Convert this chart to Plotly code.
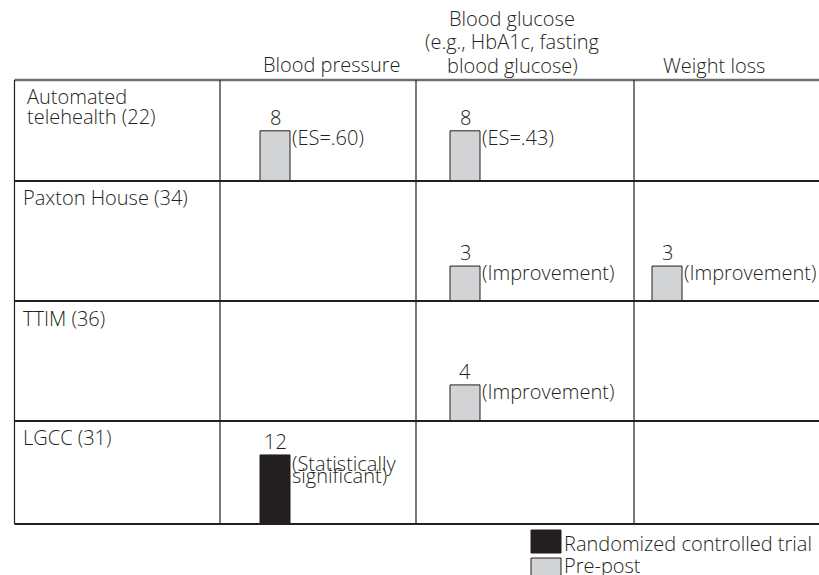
import plotly.graph_objects as go

# ---------------- data ----------------
programs = ["Automated<br>telehealth (22)", "Paxton House (34)", "TTIM (36)", "LGCC (31)"]
outcomes = ["Blood pressure", "Blood glucose<br>(e.g., HbA1c, fasting<br>blood glucose)", "Weight loss"]

study_program = [0, 0, 1, 1, 2, 3]          # row index into programs
study_outcome = [0, 1, 1, 2, 1, 0]          # column index into outcomes
study_count = [8, 8, 3, 3, 4, 12]
study_design = ["Pre-post", "Pre-post", "Pre-post", "Pre-post", "Pre-post",
                "Randomized controlled trial"]
study_result = ["(ES=.60)", "(ES=.43)", "(Improvement)", "(Improvement)",
                "(Improvement)", "(Statistically<br>significant)"]

designs = ["Randomized controlled trial", "Pre-post"]

# ---------------- layout geometry (pixels) ----------------
W, H = 819, 575
FONT = "Open Sans"
FS = 20
WT = 300
TXT = "#231f20"
design_color = {"Randomized controlled trial": "#231f20", "Pre-post": "#d1d3d4"}

col_edges = [220, 416, 634, 819]
row_edges = [80, 181, 301, 421, 524]
left_edge = 14.5
bar_center_px = [275, 465, 667]
bar_px = 30
row_ymax = [16.1, 10.3, 13.3, 17.9]


def px(x):
    return x / W


def py(y):
    return 1 - y / H


ASC = 1.069 * FS + 1  # box top -> baseline offset


def fnt(size=FS):
    return dict(family=FONT, size=size, color=TXT, weight=WT)


def text_at(text, x, baseline, xanchor="left", size=FS):
    return dict(text=text, x=px(x), y=py(baseline - ASC), xref="paper", yref="paper",
                xanchor=xanchor, yanchor="top", showarrow=False, font=fnt(size))


fig = go.Figure()
annotations = []
shapes = []

# axes for every cell
for r in range(4):
    for c in range(3):
        n = r * 3 + c + 1
        sfx = "" if n == 1 else str(n)
        x0, x1 = col_edges[c], col_edges[c + 1]
        y0, y1 = row_edges[r], row_edges[r + 1]
        bc = bar_center_px[c]
        fig.layout["xaxis" + sfx] = dict(
            domain=[px(x0), px(x1)], anchor="y" + sfx,
            range=[-(bc - x0) / bar_px, (x1 - bc) / bar_px],
            visible=False, fixedrange=True)
        fig.layout["yaxis" + sfx] = dict(
            domain=[py(y1), py(y0)], anchor="x" + sfx,
            range=[0, row_ymax[r]], visible=False, fixedrange=True)

# bars
for i in range(len(study_count)):
    r, c = study_program[i], study_outcome[i]
    n = r * 3 + c + 1
    sfx = "" if n == 1 else str(n)
    fig.add_trace(go.Bar(
        x=[0], y=[study_count[i]], width=1,
        xaxis="x" + sfx, yaxis="y" + sfx,
        marker=dict(color=design_color[study_design[i]],
                    line=dict(color="#231f20", width=1)),
        showlegend=False, hoverinfo="skip"))
    annotations.append(dict(
        text=str(study_count[i]), x=0, y=study_count[i], xref="x" + sfx, yref="y" + sfx,
        xanchor="center", yanchor="bottom", yshift=-2, showarrow=False, font=fnt()))
    lines = study_result[i].split("<br>")
    for k, ln in enumerate(lines):
        annotations.append(dict(
            text=ln, x=0.5, y=study_count[i], xref="x" + sfx, yref="y" + sfx,
            xanchor="left", yanchor="top", xshift=0,
            yshift=(9 if len(lines) == 1 else 7) - 12 * k, showarrow=False,
            font=fnt()))

# column headers
hdr_center = [332, 512, 714]
hdr_last_base = [71, 72, 72]
for c, name in enumerate(outcomes):
    lines = name.split("<br>")
    nl = len(lines)
    for k, ln in enumerate(lines):
        annotations.append(text_at(ln, hdr_center[c],
                                   hdr_last_base[c] - 23.5 * (nl - 1 - k),
                                   xanchor="center"))

# row labels
row_label_x = [25, 21, 21, 21]
row_first_base = [103, 204, 325, 444]
for r, name in enumerate(programs):
    for k, ln in enumerate(name.split("<br>")):
        annotations.append(text_at(ln, row_label_x[r], row_first_base[r] + 20.5 * k))

# grid lines
shapes.append(dict(type="line", xref="paper", yref="paper", x0=px(left_edge), x1=1,
                   y0=py(row_edges[0]), y1=py(row_edges[0]),
                   line=dict(color="#6d6e71", width=2.5)))
for yy in row_edges[1:]:
    shapes.append(dict(type="line", xref="paper", yref="paper", x0=px(left_edge), x1=1,
                       y0=py(yy), y1=py(yy), line=dict(color="#231f20", width=2.2)))
for xx in [left_edge] + col_edges[:3]:
    shapes.append(dict(type="line", xref="paper", yref="paper", x0=px(xx), x1=px(xx),
                       y0=py(row_edges[0]), y1=py(row_edges[-1]),
                       line=dict(color="#231f20", width=1.2)))

# legend (swatches + labels)
leg_top = [530, 558]
leg_base = [550, 572]
for k, d in enumerate(designs):
    shapes.append(dict(type="rect", xref="paper", yref="paper",
                       x0=px(531), x1=px(561), y0=py(leg_top[k]), y1=py(leg_top[k] + 23),
                       fillcolor=design_color[d], line=dict(color="#231f20", width=1)))
    annotations.append(text_at(d, 562, leg_base[k]))

fig.update_layout(
    width=W, height=H, margin=dict(l=0, r=0, t=0, b=0),
    paper_bgcolor="white", plot_bgcolor="white",
    annotations=annotations, shapes=shapes, showlegend=False,
    font=fnt(), barmode="overlay")

fig.write_html("out.html", config={"displayModeBar": False},
               post_script="document.body.style.margin='0px';"
                           "document.body.style.overflow='hidden';")
